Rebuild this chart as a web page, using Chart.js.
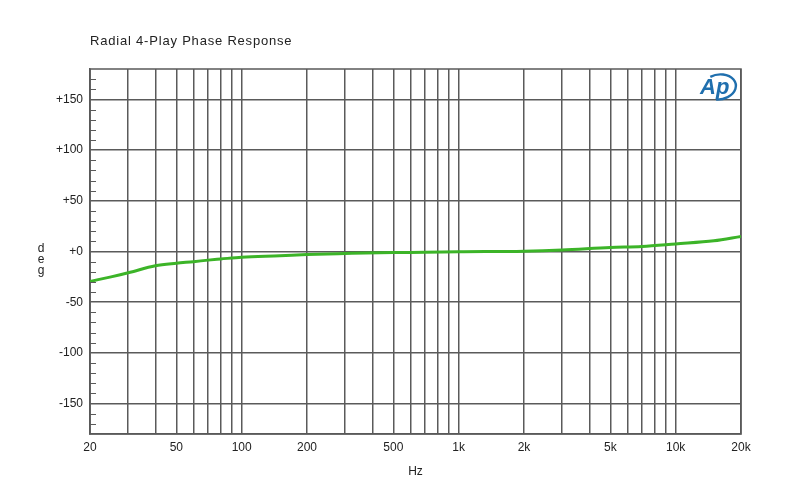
<!DOCTYPE html>
<html lang="en">
  <head>
    <meta charset="utf-8" />
    <title>Radial 4-Play Phase Response</title>
    <style>
      * { margin: 0; padding: 0; }
      body { background: #fff; }
      .chartBox { width: 800px; height: 500px; }
    </style>
  </head>
  <body>
    <div class="chartBox">
      <canvas id="myChart" width="800" height="500"></canvas>
    </div>
    <script src="https://cdn.jsdelivr.net/npm/chart.js/dist/chart.umd.min.js"></script>
    <script>
      // measured curve (Hz, degrees)
      const freqs = [20, 25, 30, 40, 50, 60, 70, 80, 100, 150, 200, 300, 500, 700, 1000, 2000, 3000, 5000, 7000, 10000, 15000, 20000];
      const phase = [-29.5, -25, -21, -14, -11.5, -10, -8.5, -7.4, -5.6, -4.2, -3, -2, -1, -0.8, -0.3, 0.3, 1.5, 4, 5, 7.5, 10.5, 14.8];

      const xGrid = [20, 30, 40, 50, 60, 70, 80, 90, 100, 200, 300, 400, 500, 600, 700, 800, 900,
        1000, 2000, 3000, 4000, 5000, 6000, 7000, 8000, 9000, 10000, 20000];
      const xLabels = { 20: "20", 50: "50", 100: "100", 200: "200", 500: "500", 1000: "1k",
        2000: "2k", 5000: "5k", 10000: "10k", 20000: "20k" };
      const yTicks = [-150, -100, -50, 0, 50, 100, 150];
      const yMinor = [-170, -160, -140, -130, -120, -110, -90, -80, -70, -60, -40, -30, -20, -10,
        10, 20, 30, 40, 60, 70, 80, 90, 110, 120, 130, 140, 160, 170];

      const gridColor = "#5a5a5a";
      const textColor = "#222";
      const font = "'Liberation Sans', Arial, sans-serif";

      const decorations = {
        id: "decorations",
        afterDraw(chart) {
          const ctx = chart.ctx;
          const area = chart.chartArea;
          const y = chart.scales.y;
          ctx.save();
          // minor ticks on the left edge
          ctx.strokeStyle = gridColor;
          ctx.lineWidth = 1;
          yMinor.forEach((v) => {
            const py = Math.round(y.getPixelForValue(v)) + 0.5;
            ctx.beginPath();
            ctx.moveTo(area.left, py);
            ctx.lineTo(area.left + 6, py);
            ctx.stroke();
          });
          // title
          ctx.fillStyle = textColor;
          ctx.font = "13px " + font;
          ctx.letterSpacing = "0.8px";
          ctx.textBaseline = "middle";
          ctx.textAlign = "left";
          ctx.fillText("Radial 4-Play Phase Response", 90, 41);
          ctx.letterSpacing = "0px";
          // stacked y label
          ctx.font = "12px " + font;
          ctx.textAlign = "center";
          ["d", "e", "g"].forEach((c, i) => ctx.fillText(c, 41, 249 + i * 11));
          // AP logo
          ctx.fillStyle = "#1f6fae";
          ctx.strokeStyle = "#1f6fae";
          ctx.font = "italic bold 22px " + font;
          ctx.textAlign = "left";
          ctx.fillText("Ap", 700, 88);
          ctx.lineWidth = 2.4;
          ctx.beginPath();
          ctx.ellipse(719, 87, 17, 12.5, -0.15, -2.0, 1.85);
          ctx.stroke();
          ctx.restore();
        },
      };

      const data = {
        datasets: [
          {
            label: "Phase",
            data: freqs.map((f, i) => ({ x: f, y: phase[i] })),
            borderColor: "#3cb428",
            borderWidth: 3,
            pointRadius: 0,
            showLine: true,
            fill: false,
            cubicInterpolationMode: "monotone",
          },
        ],
      };

      // frame on right and top
      const frame = {
        id: "frame",
        beforeDatasetsDraw(chart) {
          const { ctx, chartArea: a } = chart;
          ctx.save();
          ctx.strokeStyle = gridColor;
          ctx.lineWidth = 1.5;
          ctx.strokeRect(a.left, a.top, a.right - a.left, a.bottom - a.top);
          ctx.restore();
        },
      };

      const config = {
        type: "scatter",
        data,
        plugins: [frame, decorations],
        options: {
          responsive: false,
          animation: false,
          layout: { padding: { top: 69, right: 59, left: 0, bottom: 0 } },
          plugins: {
            legend: { display: false },
            tooltip: { enabled: false },
          },
          scales: {
            x: {
              type: "logarithmic",
              min: 20,
              max: 20000,
              afterBuildTicks(scale) {
                scale.ticks = xGrid.map((v) => ({ value: v }));
              },
              afterFit(scale) {
                scale.height = 66;
              },
              grid: { color: gridColor, lineWidth: 1.5, drawTicks: false },
              border: { color: gridColor, width: 1.5 },
              ticks: {
                autoSkip: false,
                maxRotation: 0,
                padding: 6,
                color: textColor,
                font: { family: font, size: 12 },
                callback: (v) => xLabels[v] || "",
              },
              title: {
                display: true,
                text: "Hz",
                color: textColor,
                font: { family: font, size: 12 },
                padding: { top: 0, bottom: 21 },
              },
            },
            y: {
              min: -180,
              max: 180,
              afterBuildTicks(scale) {
                scale.ticks = yTicks.map((v) => ({ value: v }));
              },
              afterFit(scale) {
                scale.width = 90;
              },
              grid: { color: gridColor, lineWidth: 1.5, drawTicks: false },
              border: { color: gridColor, width: 1.5 },
              ticks: {
                padding: 7,
                color: textColor,
                font: { family: font, size: 12 },
                callback: (v) => (v >= 0 ? "+" + v : String(v)),
              },
            },
          },
        },
      };

      const myChart = new Chart(document.getElementById("myChart"), config);
    </script>
  </body>
</html>
